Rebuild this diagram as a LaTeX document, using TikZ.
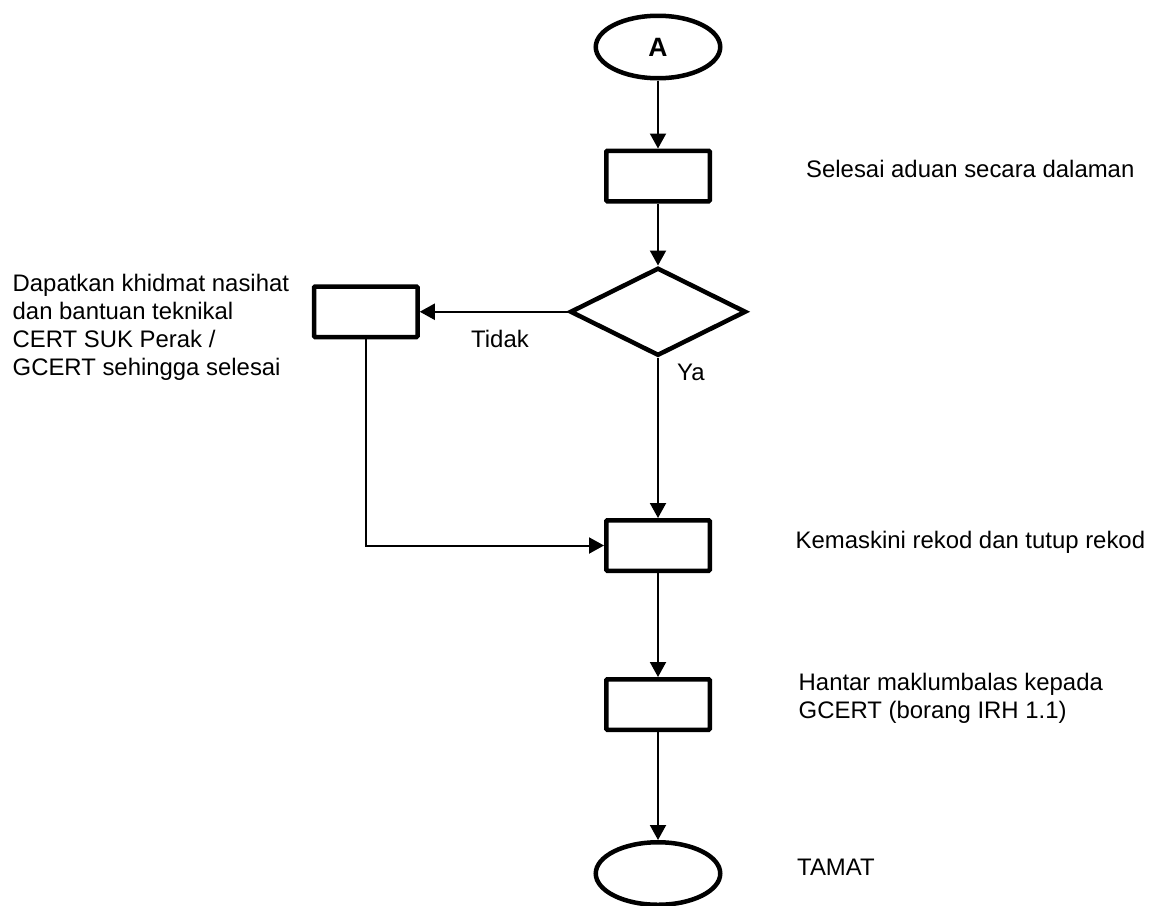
\documentclass[tikz,border=0pt]{standalone}
\usepackage{fontspec}
\setmainfont{Liberation Sans}
\usetikzlibrary{arrows.meta,positioning,shapes.geometric}

\begin{document}
\begin{tikzpicture}[
  x=1pt, y=-1pt,
  font=\fontsize{23.9}{28}\selectfont,
  terminal/.style={draw, ellipse, line width=4.5pt, minimum width=124.5pt, minimum height=62.5pt, inner sep=0pt},
  proses/.style={draw, line width=4.5pt, rounded corners=1pt, minimum width=103.5pt, minimum height=50.5pt, inner sep=0pt},
  keputusan/.style={draw, diamond, line width=4.5pt, minimum width=176pt, minimum height=88pt, inner sep=0pt},
  flow/.style={-{Triangle[length=15pt,width=16pt]}, line width=2pt},
  catatan/.style={inner sep=0pt, align=left}
]
\useasboundingbox (0,0) rectangle (1150,905);

\node[terminal] (mula) at (658,47) {\fontsize{26.5}{28}\bfseries\raisebox{-2pt}{A}};
\node[proses, below=68pt of mula] (selesai) {};
\node[keputusan, below=62pt of selesai] (cek) {};
\node[proses, left=148pt of cek] (nasihat) {};
\node[proses, below=160pt of cek] (kemaskini) {};
\node[proses, below=104pt of kemaskini] (hantar) {};
\node[terminal, below=108pt of hantar] (tamat) {};

\node[catatan, anchor=base west] (tselesai) at (806,177) {Selesai aduan secara dalaman};
\node[catatan, anchor=north west] (tnasihat) at (12.5,274) {Dapatkan khidmat nasihat\\dan bantuan teknikal\\CERT SUK Perak /\\GCERT sehingga selesai};
\node[catatan, anchor=base west] (ttidak) at (471,347) {Tidak};
\node[catatan, anchor=base west] (tya) at (677,380) {Ya};
\node[catatan, anchor=base west] (tkemaskini) at (795.5,548) {Kemaskini rekod dan tutup rekod};
\node[catatan, anchor=north west] (thantar) at (798.5,673) {Hantar maklumbalas kepada\\GCERT (borang IRH 1.1)};
\node[catatan, anchor=base west] (ttamat) at (797,875) {TAMAT};

\draw[flow] (mula.south) -- (selesai.north);
\draw[flow] (selesai.south) -- (cek.north);
\draw[flow] (cek.west) -- (nasihat.east);
\draw[flow] (cek.south) -- (kemaskini.north);
\draw[flow] (nasihat.south) |- (kemaskini.west);
\draw[flow] (kemaskini.south) -- (hantar.north);
\draw[flow] (hantar.south) -- (tamat.north);
\end{tikzpicture}
\end{document}
